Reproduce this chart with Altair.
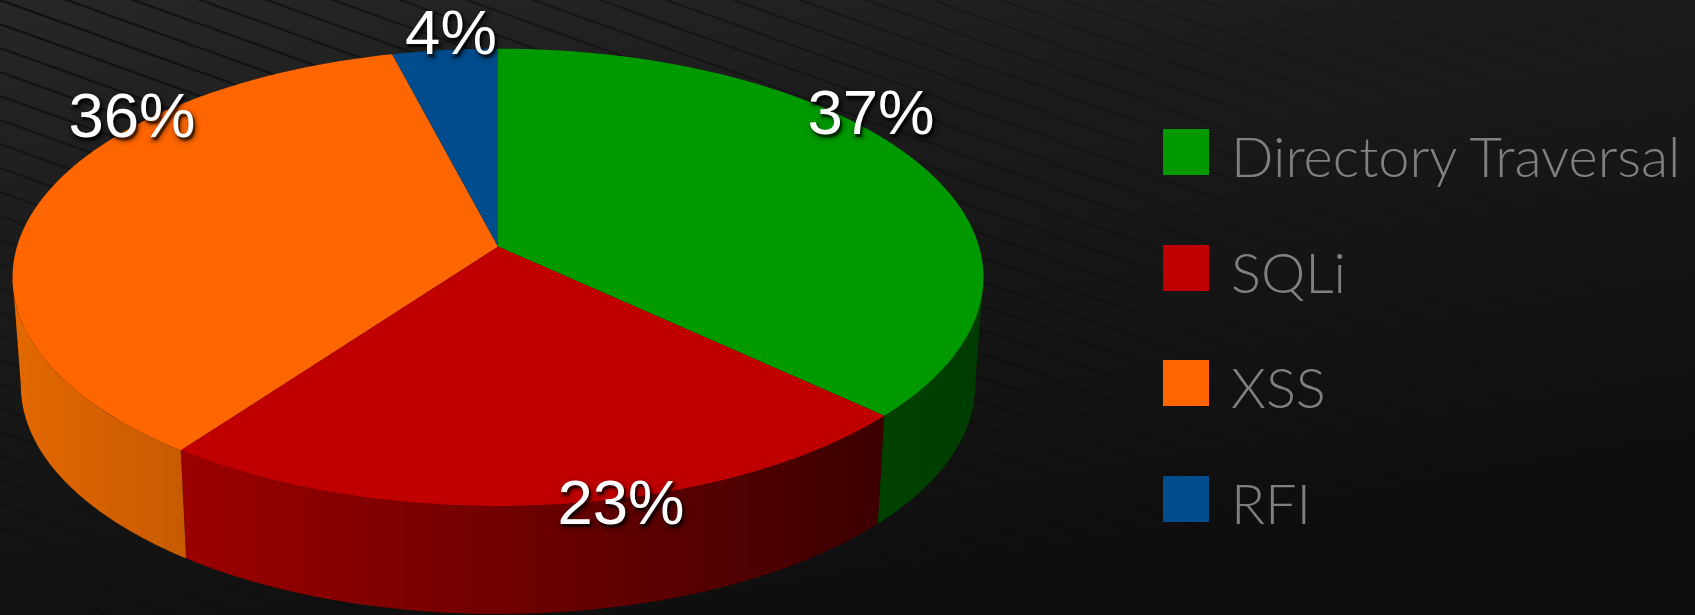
import math
import altair as alt
import pandas as pd

# Attack categories and their share of the total, clockwise from twelve o'clock
categories = ["Directory Traversal", "SQLi", "XSS", "RFI"]
shares = [37, 23, 36, 4]
colors = ["#009900", "#c00000", "#ff6600", "#004c8c"]
share_labels = ["37%", "23%", "36%", "4%"]
label_x = [871, 621, 132, 451]
label_y = [134, 524, 137, 54]

W, H = 1695, 615

# Perspective disc: centre, radii, foreshortening and extrusion of the pie
CX, CY, RX, RY, K = 498.0, 246.5, 481.0, 224.5, 0.1348
DEPTH, SHRINK = 108.0, 0.983
WIDEST = math.degrees(math.acos(-K))


def rim(theta):
    t = math.radians(theta)
    u, v = math.sin(t), math.cos(t)
    w = 1 + K * v
    return [CX + RX * u / w, CY - RY * v / w]


def lower(p):
    return [CX + (p[0] - CX) * SHRINK, p[1] + DEPTH]


def arc(a, b):
    n = max(2, int(abs(b - a) * 2))
    return [rim(a + (b - a) * i / n) for i in range(n + 1)]


def feature(points):
    ring = points + [points[0]]
    return {"type": "Feature", "properties": {},
            "geometry": {"type": "Polygon", "coordinates": [ring]}}


def hgrad(c0, c1):
    return alt.LinearGradient(
        gradient="linear", x1=0, y1=0, x2=1, y2=0,
        stops=[alt.GradientStop(color=c0, offset=0), alt.GradientStop(color=c1, offset=1)],
    )


projection = alt.Projection(type="identity", scale=1, translate=[0, 0])
x_px = alt.X("x:Q", axis=None, scale=alt.Scale(domain=[0, W], range=[0, W], nice=False))
y_px = alt.Y("y:Q", axis=None, scale=alt.Scale(domain=[0, H], range=[0, H], nice=False))

# Backdrop: dark diagonal wash with fine slanted stripes
backdrop = (
    alt.Chart(pd.DataFrame({"x": [0], "x2": [W], "y": [0], "y2": [H]}))
    .mark_rect(fill=alt.LinearGradient(
        gradient="linear", x1=0, y1=0, x2=0.45, y2=1,
        stops=[alt.GradientStop(color="#272727", offset=0),
               alt.GradientStop(color="#1b1b1b", offset=0.35),
               alt.GradientStop(color="#131313", offset=0.75),
               alt.GradientStop(color="#0e0e0e", offset=1)]))
    .encode(x=x_px, x2="x2:Q", y=y_px, y2="y2:Q")
)

stripe_starts = list(range(-600, 600, 24))
stripes = pd.DataFrame({
    "x": [0] * len(stripe_starts),
    "x2": [W] * len(stripe_starts),
    "y": stripe_starts,
    "y2": [s + 0.36 * W for s in stripe_starts],
    "o": [max(0.2, 0.65 - max(s, 0) / 600) for s in stripe_starts],
})
stripe_layer = (
    alt.Chart(stripes)
    .mark_rule(strokeWidth=2.2, stroke=alt.LinearGradient(
        gradient="linear", x1=0, y1=0, x2=1, y2=0,
        stops=[alt.GradientStop(color="rgba(0,0,0,0.9)", offset=0),
               alt.GradientStop(color="rgba(0,0,0,0.55)", offset=0.35),
               alt.GradientStop(color="rgba(0,0,0,0.25)", offset=0.7),
               alt.GradientStop(color="rgba(0,0,0,0.05)", offset=1)]))
    .encode(x=x_px, x2="x2:Q", y=y_px, y2="y2:Q", opacity=alt.Opacity("o:Q", scale=None))
)

# Slice boundaries derived from the shares
bounds = [0.0]
for s in shares:
    bounds.append(bounds[-1] + s * 3.6)

side_fill = [
    hgrad("#004200", "#003c00"),
    hgrad("#9c0000", "#3c0000"),
    hgrad("#e36800", "#c75a00"),
    None,
]

layers = [backdrop, stripe_layer]

# Extruded side walls, only where they face the viewer
for i in range(len(shares)):
    a = max(bounds[i], WIDEST)
    b = min(bounds[i + 1], 360 - WIDEST)
    if a >= b or side_fill[i] is None:
        continue
    top = arc(a, b)
    bottom = [lower(p) for p in reversed(top)]
    layers.append(
        alt.Chart(alt.InlineData(values=[feature(top + bottom)], format=alt.JsonDataFormat(type="json")))
        .mark_geoshape(fill=side_fill[i], stroke=None)
        .project(**projection.to_dict())
    )

# Top face of each slice
for i in range(len(shares)):
    wedge = [[CX, CY]] + arc(bounds[i], bounds[i + 1])
    layers.append(
        alt.Chart(alt.InlineData(values=[feature(wedge)], format=alt.JsonDataFormat(type="json")))
        .mark_geoshape(fill=colors[i], stroke=None)
        .project(**projection.to_dict())
    )

# Percentage labels with a soft dark halo
labels = pd.DataFrame({"x": label_x, "y": label_y, "t": share_labels})
for width, op in [(14, 0.12), (10, 0.18), (6, 0.28), (3, 0.4)]:
    layers.append(
        alt.Chart(labels)
        .mark_text(font="Liberation Sans", fontSize=63.5, baseline="alphabetic", align="center",
                   dx=2, dy=3, color="#000000", stroke="#000000", strokeWidth=width,
                   strokeOpacity=op, opacity=op, strokeJoin="round")
        .encode(x=x_px, y=y_px, text="t:N")
    )
layers.append(
    alt.Chart(labels)
    .mark_text(font="Liberation Sans", fontSize=63.5, baseline="alphabetic", align="center", color="#ffffff")
    .encode(x=x_px, y=y_px, text="t:N")
)

# Legend column: colour key plus category name
legend_y = [152, 268, 383, 499]
legend = pd.DataFrame({"x": [1186] * 4, "y": legend_y, "c": categories, "t": categories})
layers.append(
    alt.Chart(legend)
    .mark_square(size=46 * 46, opacity=1, filled=True)
    .encode(x=x_px, y=y_px,
            color=alt.Color("c:N", legend=None,
                            scale=alt.Scale(domain=categories, range=colors)))
)
legend_text = legend.assign(x=1231, y=[v + 25 for v in legend_y])
layers.append(
    alt.Chart(legend_text)
    .mark_text(font="Lato", fontWeight=300, fontSize=56, align="left", baseline="alphabetic",
               color="#808080")
    .encode(x=x_px, y=y_px, text="t:N")
)

chart = (
    alt.layer(*layers)
    .properties(width=W, height=H, padding=0, background="#111111",
                autosize=alt.AutoSizeParams(type="none"))
    .configure_view(stroke=None)
)

chart.save("out.html", embed_options={"renderer": "svg", "actions": False})
